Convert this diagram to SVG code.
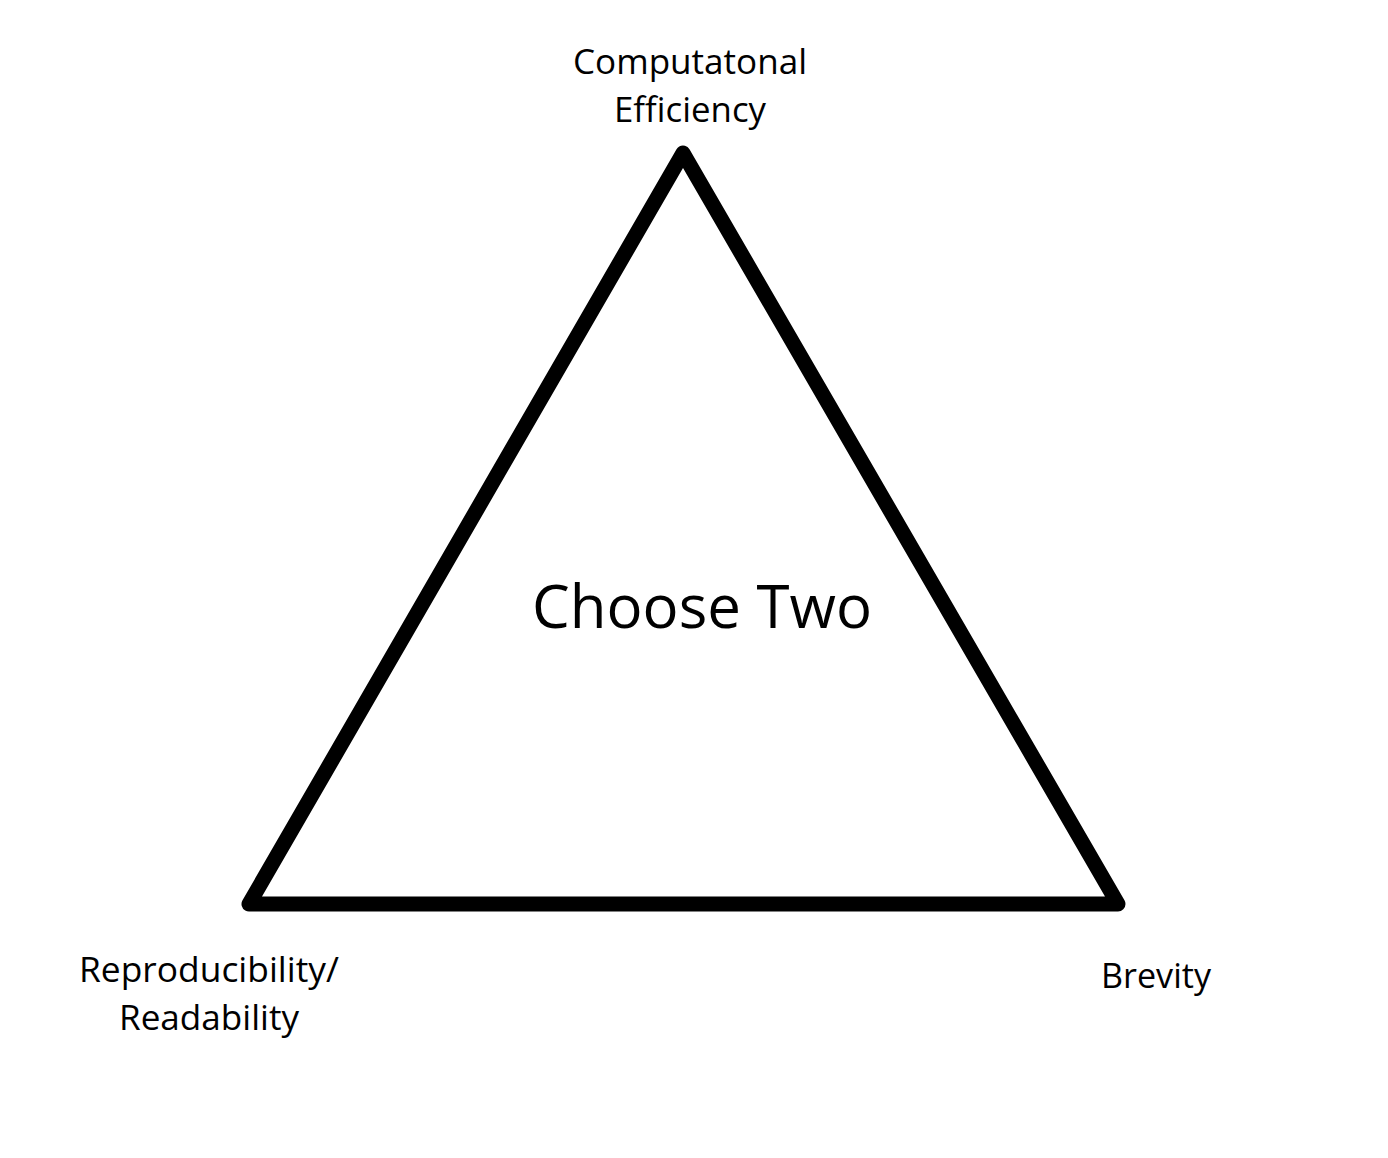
<svg xmlns="http://www.w3.org/2000/svg" width="1388" height="1158" viewBox="0 0 1388 1158">
<style>
text { font-family: "Open Sans", "Noto Sans", "Liberation Sans", sans-serif; fill: #000; text-anchor: middle; }
.lbl { font-size: 34px; }
.big { font-size: 60px; }
</style>
<rect width="1388" height="1158" fill="#fff"/>
<g id="connectors">
<polygon points="683,153 249,904 1118,904" fill="none" stroke="#000" stroke-width="15" stroke-linejoin="round"/>
</g>
<g id="center"><text class="big" x="702" y="628" textLength="340" lengthAdjust="spacingAndGlyphs">Choose Two</text></g>
<g id="top"><text class="lbl" x="690" y="74" textLength="234" lengthAdjust="spacingAndGlyphs">Computatonal</text><text class="lbl" x="690" y="122" textLength="152" lengthAdjust="spacingAndGlyphs">Efficiency</text></g>
<g id="left"><text class="lbl" x="209" y="982" textLength="260" lengthAdjust="spacingAndGlyphs">Reproducibility/</text><text class="lbl" x="209" y="1030" textLength="180" lengthAdjust="spacingAndGlyphs">Readability</text></g>
<g id="right"><text class="lbl" x="1156" y="988" textLength="110" lengthAdjust="spacingAndGlyphs">Brevity</text></g>
</svg>
